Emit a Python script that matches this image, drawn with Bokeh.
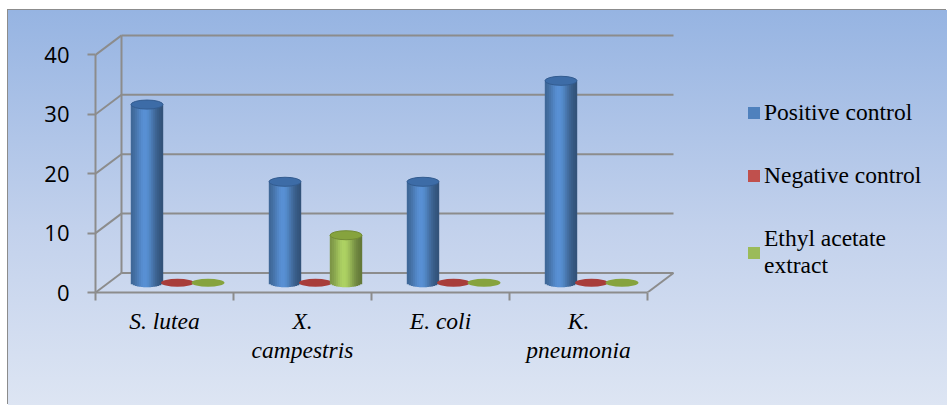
import numpy as np
from bokeh.plotting import figure
from bokeh.models import Range1d, FixedTicker, Legend, LegendItem
from bokeh.embed import file_html
from bokeh.resources import INLINE

# ---------------- data ----------------
categories = ["S. lutea", "X.\ncampestris", "E. coli", "K.\npneumonia"]
series_names = ["Positive control", "Negative control", "Ethyl acetate\nextract"]
positive_control = [30, 17, 17, 34]
negative_control = [0, 0, 0, 0]
ethyl_acetate_extract = [0, 8, 0, 0]
y_ticks = [0, 10, 20, 30, 40]

series_values = [positive_control, negative_control, ethyl_acetate_extract]

# ---------------- style ----------------
body_rgb = [(79, 129, 189), (192, 80, 77), (155, 187, 89)]
cap_colors = ["#3d6ca7", "#a83d3a", "#86a33e"]
cap_lines = ["#335c90", "#8f3331", "#738c35"]
legend_colors = ["#4f81bd", "#c0504d", "#9bbb59"]
grid_color = "#8c8c8c"

W, H = 939, 395
LEFT, TOP, BOTTOM = 87, 2, 113
FW = W - LEFT
FH = H - TOP - BOTTOM
PX_X = 138.0      # px per category
PX_Y = 5.94       # px per value unit
x_start = -0.5
x_end = x_start + FW / PX_X
y_end = FH / PX_Y

DX = 26 / PX_X    # depth offset of back wall (data units)
DY = 19.5 / PX_Y
MDX, MDY = DX / 2, DY / 2
GAP = 30.5 / PX_X
BW = 32 / PX_X
EH = 9 / PX_Y


def shade(rgb, u):
    b = 0.68 + 0.44 * np.exp(-((u + 0.1) / 0.62) ** 2) - 0.06 * u
    return "#%02x%02x%02x" % tuple(int(max(0, min(255, c * b))) for c in rgb)


p = figure(width=W, height=H, x_range=Range1d(x_start, x_end),
           y_range=Range1d(0, y_end), output_backend="svg",
           toolbar_location=None, min_border_left=LEFT, min_border_right=0,
           min_border_top=TOP, min_border_bottom=BOTTOM)
p.margin = (10, 0, 0, 8)
p.styles = {
    "background": "linear-gradient(180deg, #96b4e2 0%, #c2d1ec 55%, #dde5f3 100%)",
    "box-shadow": "-1px -1px 0 0 #8c8c8c",
}
p.border_fill_color = None
p.background_fill_color = None
p.outline_line_color = None
p.xgrid.visible = False
p.ygrid.visible = False

n = len(categories)
xl, xr = -0.5, n - 0.5

# ---------------- axes ----------------
xa = p.xaxis[0]
xa.ticker = FixedTicker(ticks=list(range(n)),
                        minor_ticks=[i - 0.5 for i in range(n + 1)])
xa.major_label_overrides = {i: c for i, c in enumerate(categories)}
xa.bounds = (xl, xr)
xa.axis_line_color = grid_color
xa.axis_line_width = 2
xa.major_tick_line_color = None
xa.major_tick_out = 0
xa.major_tick_in = 0
xa.minor_tick_line_color = grid_color
xa.minor_tick_line_width = 2
xa.minor_tick_out = 8
xa.minor_tick_in = 0
xa.major_label_standoff = 7
xa.major_label_text_font = "Liberation Serif"
xa.major_label_text_font_style = "italic"
xa.major_label_text_font_size = "23.5px"
xa.major_label_text_line_height = 1.12
xa.major_label_text_color = "black"

ya = p.yaxis[0]
ya.ticker = FixedTicker(ticks=y_ticks, minor_ticks=[])
ya.bounds = (y_ticks[0], y_ticks[-1])
ya.axis_line_color = grid_color
ya.axis_line_width = 2
ya.major_tick_line_color = grid_color
ya.major_tick_line_width = 2
ya.major_tick_out = 8
ya.major_tick_in = 0
ya.minor_tick_line_color = None
ya.major_label_standoff = 18
ya.major_label_text_font = "Open Sans"
ya.major_label_text_font_size = "22px"
ya.major_label_text_color = "black"

# ---------------- 3D walls ----------------
m = len(y_ticks)
p.segment(x0=[xl + DX] * m, y0=[v + DY for v in y_ticks],
          x1=[xr + DX] * m, y1=[v + DY for v in y_ticks],
          line_color=grid_color, line_width=2)
p.segment(x0=[xl + DX], y0=[y_ticks[0] + DY], x1=[xl + DX], y1=[y_ticks[-1] + DY],
          line_color=grid_color, line_width=2)
p.segment(x0=[xl] * m, y0=y_ticks, x1=[xl + DX] * m, y1=[v + DY for v in y_ticks],
          line_color=grid_color, line_width=2)
p.segment(x0=[xr], y0=[0], x1=[xr + DX], y1=[DY],
          line_color=grid_color, line_width=2)

# ---------------- cylinders ----------------
NS = 16
us = [-1 + (2 * k + 1) / NS for k in range(NS)]
for i in range(n):
    for si, vals in enumerate(series_values):
        v = vals[i]
        cx = i + (si - 1) * GAP + MDX
        if v > 0:
            xs = [cx + u * BW / 2 for u in us]
            bots = [MDY - EH / 2 * np.sqrt(max(0.0, 1 - u * u)) for u in us]
            tops = [v + MDY] * NS
            cols = [shade(body_rgb[si], u) for u in us]
            p.vbar(x=xs, width=BW / NS * 1.2, top=tops, bottom=bots,
                   fill_color=cols, line_color=None)
            p.ellipse(x=[cx], y=[v + MDY], width=32, height=9,
                      width_units="screen", height_units="screen",
                      fill_color=cap_colors[si], line_color=cap_lines[si],
                      line_width=1)
        else:
            p.ellipse(x=[cx], y=[MDY], width=33, height=8,
                      width_units="screen", height_units="screen",
                      fill_color=cap_colors[si], line_color=None)

# ---------------- legend ----------------
items = []
for name, col in zip(series_names, legend_colors):
    r = p.quad(left=[np.nan], right=[np.nan], top=[np.nan], bottom=[np.nan],
               fill_color=col, line_color=None)
    items.append(LegendItem(label=name, renderers=[r]))
legend = Legend(items=items, location=(651, 13), orientation="vertical",
                glyph_width=15, glyph_height=15, label_standoff=3,
                spacing=36, padding=0, margin=0,
                background_fill_alpha=0, border_line_color=None,
                label_text_font="Liberation Serif",
                label_text_font_size="23.5px", label_text_color="black")
p.add_layout(legend)

open("out.html", "w").write(file_html(p, INLINE))
